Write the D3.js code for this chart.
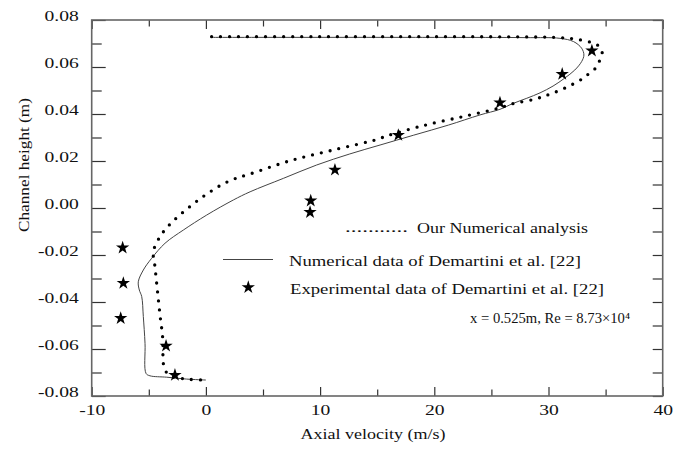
<!DOCTYPE html>
<html>
<head>
<meta charset="utf-8">
<script src="https://cdn.jsdelivr.net/npm/d3@7"></script>
<style>
  body { margin: 0; background: #fff; }
  text { font-family: "Liberation Serif", "Times New Roman", serif; fill: #111; }
</style>
</head>
<body>
<svg id="chart" width="685" height="452"></svg>
<script>
// tick values and labels
var xMajor = [-10, 0, 10, 20, 30, 40];
var xMinor = [-5, 5, 15, 25, 35];
var xTickLabels = ["-10", "0", "10", "20", "30", "40"];
var yMajor = [-0.08, -0.06, -0.04, -0.02, 0, 0.02, 0.04, 0.06, 0.08];
var yMinor = [-0.07, -0.05, -0.03, -0.01, 0.01, 0.03, 0.05, 0.07];
var yTickLabels = ["-0.08", "-0.06", "-0.04", "-0.02", "0.00", "0.02", "0.04", "0.06", "0.08"];

// Our numerical analysis (dotted)
var ourVelocity = [0.5, 10, 20, 28, 30.5, 32.2, 33.7, 34.4, 34.7, 34.5, 34.1, 33.5, 32.9, 31.6, 30.1,
  28.7, 26.8, 25.6, 22.5, 18.9, 15.8, 15.0, 11.16, 7.36, 3.87, 2.4, 1.2, -0.2, -0.96, -2.12, -3.2,
  -4.02, -4.6, -4.46, -4.25, -4.02, -3.78, -3.73, -3.58, -3.14, -1.68, -0.17];
var ourHeight = [0.0729, 0.0729, 0.0729, 0.0728, 0.0726, 0.0720, 0.0705, 0.0689, 0.0661, 0.0630, 0.0594,
  0.0570, 0.0548, 0.0514, 0.0484, 0.0462, 0.0443, 0.0424, 0.0389, 0.0349, 0.0306, 0.0292, 0.0247, 0.0201,
  0.0145, 0.0122, 0.0094, 0.0050, 0.0023, -0.0023, -0.0072, -0.0122, -0.0186, -0.0250, -0.0349, -0.0455,
  -0.0555, -0.0661, -0.0689, -0.0714, -0.0728, -0.0732];

// Numerical data of Demartini et al. (solid)
var demNumVelocity = [0.5, 20, 28, 31.0, 32.2, 32.9, 33.1, 32.9, 32.3, 31.4, 30.4, 29.26, 28.1, 26.9,
  25.75, 24.0, 21.25, 18.2, 15.25, 12.6, 9.7, 6.78, 3.87, 2.4, 0.07, -1.98, -3.58, -4.75, -5.48,
  -5.92, -5.83, -5.62, -5.48, -5.33, -5.24, -4.9, -3.43, -1.68, 0.0];
var demNumHeight = [0.0726, 0.0726, 0.0725, 0.0722, 0.0708, 0.0680, 0.0651, 0.0623, 0.0587, 0.0552,
  0.0519, 0.0490, 0.0467, 0.0445, 0.0420, 0.0396, 0.0353, 0.0310, 0.0268, 0.0230, 0.0183, 0.0126,
  0.0069, 0.0034, -0.0030, -0.0094, -0.0150, -0.0214, -0.0264, -0.0314, -0.0349, -0.0377, -0.0462,
  -0.0576, -0.0704, -0.0714, -0.0720, -0.0728, -0.0732];

// Experimental data of Demartini et al. (stars)
var demExpVelocity = [33.8, 31.2, 25.75, 16.85, 11.3, 9.18, 9.12, -7.29, -7.23, -7.46, -3.49, -2.71];
var demExpHeight = [0.0669, 0.0570, 0.0448, 0.0310, 0.0162, 0.0031, -0.0018, -0.0169, -0.0320, -0.0469, -0.0587, -0.0711];

var svg = d3.select("#chart");
var plotLeft = 91.7, plotRight = 662.7, plotTop = 20, plotBottom = 396;

var x = d3.scaleLinear().domain([-10, 40]).range([plotLeft, plotRight]);
var y = d3.scaleLinear().domain([-0.08, 0.08]).range([plotBottom, plotTop]);

var sx = 1.35; // labels look horizontally stretched in the original

function addAxis(axis, translate) {
  var g = svg.append("g")
    .attr("transform", translate)
    .style("color", "#333")
    .call(axis);
  g.select(".domain").remove();
  g.selectAll("line").attr("stroke-width", 1.2);
  return g;
}

// bottom
var gb = addAxis(d3.axisBottom(x).tickValues(xMajor).tickSizeInner(-9).tickSizeOuter(0).tickPadding(9)
  .tickFormat(function(d) { return xTickLabels[xMajor.indexOf(d)]; }),
  "translate(0," + plotBottom + ")");
gb.selectAll("text").attr("font-size", 14.5).attr("transform", "scale(" + sx + ",1)")
  .style("font-family", "Liberation Serif").attr("fill", "#111");
addAxis(d3.axisBottom(x).tickValues(xMinor).tickSizeInner(-6.5).tickSizeOuter(0).tickFormat(""),
  "translate(0," + plotBottom + ")");

// top
addAxis(d3.axisTop(x).tickValues(xMajor).tickSizeInner(-9).tickSizeOuter(0).tickFormat(""),
  "translate(0," + plotTop + ")");
addAxis(d3.axisTop(x).tickValues(xMinor).tickSizeInner(-6.5).tickSizeOuter(0).tickFormat(""),
  "translate(0," + plotTop + ")");

// left
var gl = addAxis(d3.axisLeft(y).tickValues(yMajor).tickSizeInner(-14).tickSizeOuter(0)
  .tickFormat(function(d) { return yTickLabels[yMajor.indexOf(d)]; }),
  "translate(" + plotLeft + ",0)");
gl.selectAll("text").attr("font-size", 14.5).attr("x", -13 / sx).attr("y", -4)
  .attr("transform", "scale(" + sx + ",1)")
  .style("font-family", "Liberation Serif").attr("fill", "#111");
addAxis(d3.axisLeft(y).tickValues(yMinor).tickSizeInner(-10).tickSizeOuter(0).tickFormat(""),
  "translate(" + plotLeft + ",0)");

// right
addAxis(d3.axisRight(y).tickValues(yMajor.concat(yMinor)).tickSizeInner(-10).tickSizeOuter(0).tickFormat(""),
  "translate(" + plotRight + ",0)");

// frame
svg.append("rect")
  .attr("x", plotLeft).attr("y", plotTop)
  .attr("width", plotRight - plotLeft).attr("height", plotBottom - plotTop)
  .attr("fill", "none").attr("stroke", "#666").attr("stroke-width", 1.6);

var line = d3.line()
  .x(function(d) { return x(d[0]); })
  .y(function(d) { return y(d[1]); })
  .curve(d3.curveCatmullRom.alpha(0.5));

var ourPts = d3.zip(ourVelocity, ourHeight);
var numPts = d3.zip(demNumVelocity, demNumHeight);
var expPts = d3.zip(demExpVelocity, demExpHeight);

svg.append("path")
  .attr("d", line(numPts))
  .attr("fill", "none").attr("stroke", "#444").attr("stroke-width", 1);

svg.append("path")
  .attr("d", line(ourPts))
  .attr("fill", "none").attr("stroke", "#000").attr("stroke-width", 3.3)
  .attr("stroke-linecap", "round").attr("stroke-dasharray", "0 9");

var star = d3.symbol().type(d3.symbolStar).size(55);
svg.selectAll(".star").data(expPts).enter().append("path")
  .attr("class", "star")
  .attr("d", star)
  .attr("transform", function(d) { return "translate(" + x(d[0]) + "," + y(d[1]) + ")"; })
  .attr("fill", "#000");

// legend
var legend = svg.append("g");
legend.append("text").attr("x", 345).attr("y", 232).attr("font-size", 15)
  .attr("textLength", 63).attr("lengthAdjust", "spacingAndGlyphs").text("...........");
legend.append("text").attr("x", 417).attr("y", 233).attr("font-size", 15.5)
  .attr("textLength", 171).attr("lengthAdjust", "spacingAndGlyphs").text("Our Numerical analysis");

legend.append("line").attr("x1", 223).attr("x2", 273).attr("y1", 259.5).attr("y2", 259.5)
  .attr("stroke", "#444").attr("stroke-width", 1);
legend.append("text").attr("x", 289).attr("y", 266).attr("font-size", 15.5)
  .attr("textLength", 292).attr("lengthAdjust", "spacingAndGlyphs").text("Numerical data of Demartini et al. [22]");

legend.append("path").attr("d", star).attr("transform", "translate(248.3,287.3)").attr("fill", "#000");
legend.append("text").attr("x", 290).attr("y", 294).attr("font-size", 15.5)
  .attr("textLength", 314).attr("lengthAdjust", "spacingAndGlyphs").text("Experimental data of Demartini et al. [22]");

legend.append("text").attr("x", 470).attr("y", 323).attr("font-size", 15)
  .attr("textLength", 160).attr("lengthAdjust", "spacingAndGlyphs")
  .text("x = 0.525m, Re = 8.73\u00d710\u2074");

// axis titles
svg.append("text").attr("x", 373).attr("y", 439).attr("text-anchor", "middle").attr("font-size", 15.5)
  .attr("textLength", 145).attr("lengthAdjust", "spacingAndGlyphs").text("Axial velocity (m/s)");
svg.append("text").attr("transform", "translate(29,165) rotate(-90)").attr("text-anchor", "middle")
  .attr("font-size", 15).attr("textLength", 134).attr("lengthAdjust", "spacingAndGlyphs")
  .text("Channel height (m)");
</script>
</body>
</html>
